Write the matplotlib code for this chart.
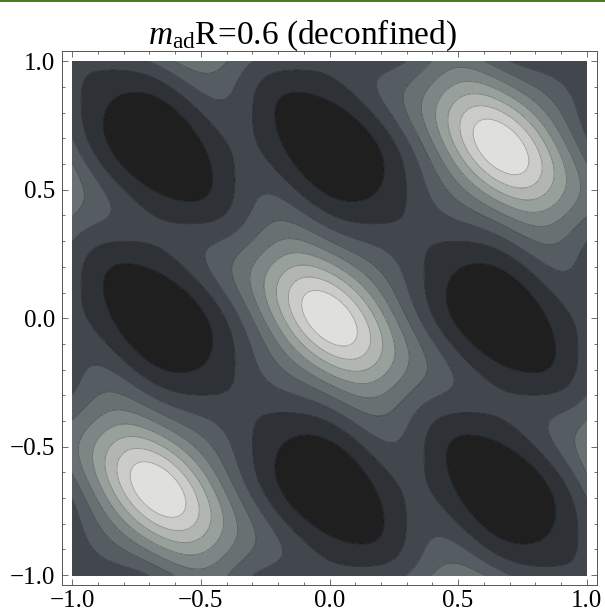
import numpy as np
import matplotlib.pyplot as plt
from matplotlib.patches import Rectangle
from matplotlib.ticker import MultipleLocator

plt.rcParams['font.family'] = ['Liberation Serif', 'DejaVu Serif']
plt.rcParams['mathtext.fontset'] = 'custom'
plt.rcParams['mathtext.rm'] = 'Liberation Serif'
plt.rcParams['mathtext.it'] = 'Liberation Serif:italic'

# --- Data ---
# weights of |tr P^n|^2 for n = 1, 2, 3 (eigenvalue phases pi*x, pi*y, -pi*(x+y))
harmonic_weights = [1.0, 0.2, 0.05]
band_colors = ["#1f1f1f", "#2e3237", "#42474d", "#565d62", "#687071",
               "#7e8685", "#98a09b", "#b1b6b0", "#cbccc7", "#dfe0db"]
tick_values = [-1.0, -0.5, 0.0, 0.5, 1.0]
title = r"$m_{\mathrm{ad}}$R=0.6 (deconfined)"

phase = np.linspace(-1, 1, 601)
X, Y = np.meshgrid(phase, phase)
Z = 0.0
for n, w in enumerate(harmonic_weights, 1):
    tr = (np.exp(1j*np.pi*n*X) + np.exp(1j*np.pi*n*Y)
          + np.exp(-1j*np.pi*n*(X + Y)))
    Z = Z + w*np.abs(tr)**2
levels = np.linspace(Z.min(), Z.max(), len(band_colors) + 1)

# --- Figure ---
fig = plt.figure(figsize=(6.05, 6.13), dpi=100)
ax = fig.add_axes([0.1025, 0.0449, 0.8843, 0.872])

ax.contourf(X, Y, Z, levels=levels, colors=band_colors)
ax.contour(X, Y, Z, levels=levels[1:-1], colors="k", linewidths=0.6, alpha=0.3)

ax.set_xlim(-1.04, 1.04)
ax.set_ylim(-1.04, 1.04)
labels = [f"{v:.1f}".replace("-", "\u2212") for v in tick_values]
ax.set_xticks(tick_values)
ax.set_yticks(tick_values)
ax.set_xticklabels(labels)
ax.set_yticklabels(labels)
ax.xaxis.set_minor_locator(MultipleLocator(0.1))
ax.yaxis.set_minor_locator(MultipleLocator(0.1))
ax.tick_params(which="both", direction="in", top=True, right=True,
               color="#555555", width=0.6, labelsize=18)
ax.tick_params(axis="x", pad=3)
ax.tick_params(axis="y", pad=5)
ax.tick_params(which="major", length=4)
ax.tick_params(which="minor", length=2.5)
for s in ax.spines.values():
    s.set_color("#555555")
    s.set_linewidth(0.7)

fig.text(0.5, 1 - 44/613, title, ha="center", va="baseline", fontsize=24)
fig.add_artist(Rectangle((0, 1 - 2/613), 1, 2/613, transform=fig.transFigure,
                         color="#4d7d22", lw=0))

fig.savefig("out.png", dpi=100)
